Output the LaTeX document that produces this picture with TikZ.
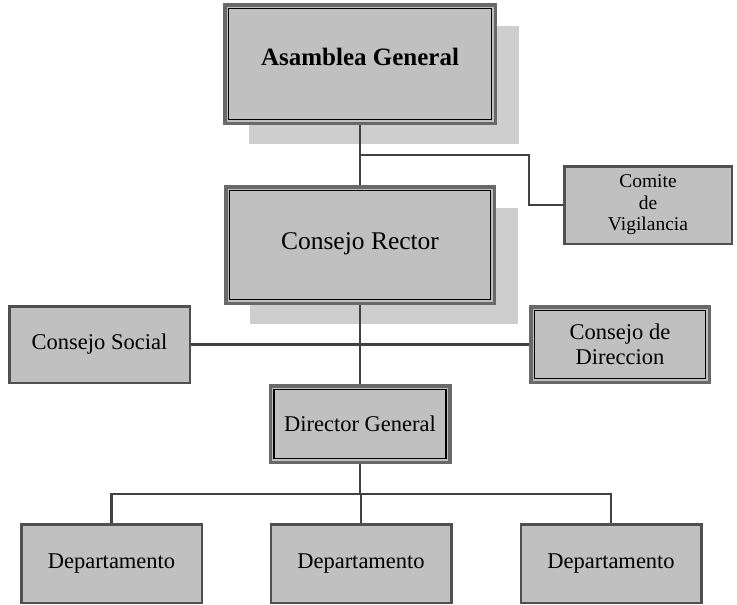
\documentclass[tikz,border=0pt]{standalone}
\usepackage{fontspec}
\setmainfont{Liberation Serif}
\usetikzlibrary{shadows}

\definecolor{boxfill}{RGB}{192,192,192}
\definecolor{shadowfill}{RGB}{206,206,206}
\definecolor{frameline}{RGB}{105,105,105}
\definecolor{boxline}{RGB}{80,80,80}
\definecolor{linkline}{RGB}{65,65,65}

\tikzstyle{box}=[draw=boxline,line width=2.5pt,fill=boxfill,inner sep=0pt,align=center,font=\fontsize{22.5}{25}\selectfont]
\tikzstyle{dbox}=[box,draw=frameline,line width=3.5pt,path picture={\draw[black,line width=1.6pt] ([shift={(3.8pt,-3.8pt)}]path picture bounding box.north west) rectangle ([shift={(-3.8pt,3.8pt)}]path picture bounding box.south east);}]
\tikzstyle{shaded}=[drop shadow={shadow xshift=24pt,shadow yshift=-21pt,fill=shadowfill,opacity=1}]
\tikzstyle{dept}=[box,minimum width=180.5pt,minimum height=78.5pt]
\tikzstyle{link}=[draw,line width=2.2pt,linkline]

\begin{document}
\begin{tikzpicture}[x=1pt,y=-1pt]
    \useasboundingbox (0,0) rectangle (737,605);
    % First we draw the boxes with a shadow
    \node[dbox,shaded,minimum width=270.5pt,minimum height=118.5pt,text height=17pt,text depth=14pt,font=\bfseries\fontsize{25}{28}\selectfont] (asamblea) at (360,64) {Asamblea General};
    \node[dbox,shaded,minimum width=268.5pt,minimum height=116.5pt,text height=18pt,text depth=10pt,font=\fontsize{25.5}{28}\selectfont] (rector) at (360,245) {Consejo Rector};
    % then the other boxes
    \node[box,minimum width=167.5pt,minimum height=77.5pt,font=\fontsize{19.5}{21.5}\selectfont] (comite) at (648,205) {Comite\\de\\Vigilancia};
    \node[box,minimum width=180.5pt,minimum height=76.5pt] (social) at (99.5,344.5) {Consejo Social};
    \node[dbox,minimum width=178.5pt,minimum height=75.5pt] (direccion) at (620,344.5) {Consejo de\\Direccion};
    \node[dbox,minimum width=179.5pt,minimum height=76.5pt] (director) at (360,424) {Director General};
    \foreach \pos/\name in {{(111.5,563.5)/dptA}, {(361,563.5)/dptB}, {(611,563.5)/dptC}}
        \node[dept] (\name) at \pos {Departamento};
    % Connect the boxes
    \coordinate (cvturn) at (529,155);
    \path[link] (asamblea) -- (rector);
    \path[link] (asamblea.south |- cvturn) -- (cvturn) |- (comite.west);
    \path[link] (social) -- (direccion);
    \path[link] (rector) -- (director);
    \foreach \dest in {dptA,dptB,dptC}
        \path[link] (director.south) -- ++(0,30) -| (\dest.north);
\end{tikzpicture}
\end{document}
